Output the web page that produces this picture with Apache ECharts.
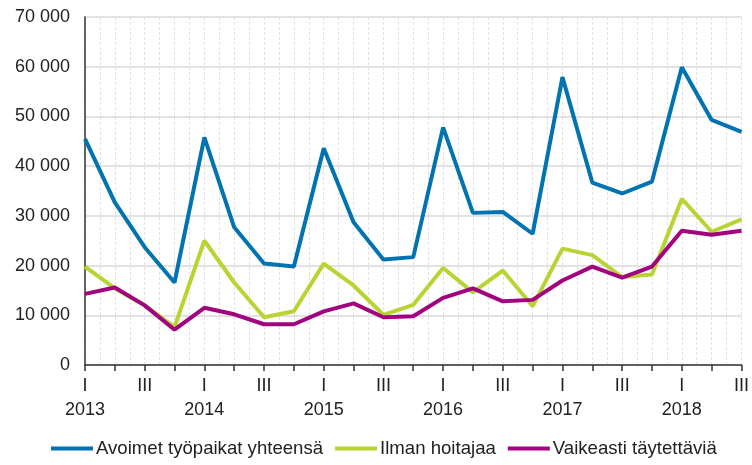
<!DOCTYPE html>
<html>
<head>
<meta charset="utf-8">
<script src="https://cdn.jsdelivr.net/npm/echarts@6/dist/echarts.min.js"></script>
<style>
html,body{margin:0;padding:0;background:#fff;}
#chart{width:752px;height:465px;}
</style>
</head>
<body>
<div id="chart"></div>
<script>
var categories = [
  '2013 I','2013 II','2013 III','2013 IV',
  '2014 I','2014 II','2014 III','2014 IV',
  '2015 I','2015 II','2015 III','2015 IV',
  '2016 I','2016 II','2016 III','2016 IV',
  '2017 I','2017 II','2017 III','2017 IV',
  '2018 I','2018 II','2018 III'
];
var seriesNames = ['Avoimet työpaikat yhteensä', 'Ilman hoitajaa', 'Vaikeasti täytettäviä'];
var avoimet = [45500, 32700, 23700, 16600, 45800, 27700, 20400, 19800, 43600, 28700, 21200, 21700,
               47800, 30600, 30800, 26400, 57900, 36700, 34500, 36900, 59900, 49300, 46900];
var ilmanHoitajaa = [19800, 15400, 12000, 7600, 25000, 16600, 9600, 10800, 20400, 16000, 10100, 12100,
                     19500, 14600, 19000, 11800, 23400, 22100, 17700, 18200, 33400, 26800, 29300];
var vaikeasti = [14300, 15600, 12000, 7100, 11500, 10200, 8200, 8200, 10800, 12400, 9600, 9800,
                 13500, 15400, 12800, 13100, 17000, 19800, 17600, 19800, 27000, 26200, 27000];
var colors = ['#0073b0', '#b8d433', '#a2047f'];

// half-step helper categories for the light vertical grid
var gridSteps = [];
for (var i = 0; i < categories.length * 2 - 1; i++) gridSteps.push(String(i));

function fmtThousands(v) {
  return String(v).replace(/\B(?=(\d{3})+(?!\d))/g, ' ');
}

var chart = echarts.init(document.getElementById('chart'), null, {renderer: 'canvas'});
var font = 'Liberation Sans, Arial, sans-serif';
chart.setOption({
  animation: false,
  color: colors,
  grid: {left: 85, right: 2, top: 17, bottom: 100, containLabel: false},
  legend: {
    data: seriesNames,
    left: 46,
    top: 434,
    icon: 'rect',
    itemWidth: 42,
    itemHeight: 4,
    itemGap: 12,
    textStyle: {fontFamily: font, fontSize: 18.6, color: '#222', padding: [0, 0, 0, -2]}
  },
  xAxis: [{
    type: 'category',
    data: categories,
    boundaryGap: false,
    axisLine: {show: true, lineStyle: {color: '#333', width: 1.5}},
    axisTick: {show: true, interval: 0, length: 6, lineStyle: {color: '#333', width: 1.5}},
    splitLine: {show: false},
    axisLabel: {
      interval: 0,
      margin: 9,
      fontFamily: font,
      fontSize: 18,
      color: '#222',
      lineHeight: 24,
      formatter: function (v) {
        var p = v.split(' ');
        if (p[1] === 'I') return 'I\n' + p[0];
        if (p[1] === 'III') return 'III';
        return '';
      }
    }
  }, {
    type: 'category',
    data: gridSteps,
    boundaryGap: false,
    position: 'bottom',
    axisLine: {show: false},
    axisTick: {show: false},
    axisLabel: {show: false},
    splitLine: {show: true, interval: 0, lineStyle: {color: '#e2e2e2', type: [3, 2], width: 1}}
  }],
  yAxis: {
    type: 'value',
    min: 0,
    max: 70000,
    interval: 10000,
    axisLine: {show: true, lineStyle: {color: '#333', width: 1.5}},
    axisTick: {show: false},
    splitLine: {show: true, lineStyle: {color: '#d9d9d9', width: 1.5}},
    axisLabel: {
      margin: 15,
      fontFamily: font,
      fontSize: 18,
      color: '#222',
      formatter: fmtThousands
    }
  },
  series: [
    {name: seriesNames[0], type: 'line', data: avoimet, showSymbol: false, symbol: 'none', lineStyle: {width: 4}, z: 3},
    {name: seriesNames[1], type: 'line', data: ilmanHoitajaa, showSymbol: false, symbol: 'none', lineStyle: {width: 4}, z: 4},
    {name: seriesNames[2], type: 'line', data: vaikeasti, showSymbol: false, symbol: 'none', lineStyle: {width: 4}, z: 5}
  ]
});
</script>
</body>
</html>
